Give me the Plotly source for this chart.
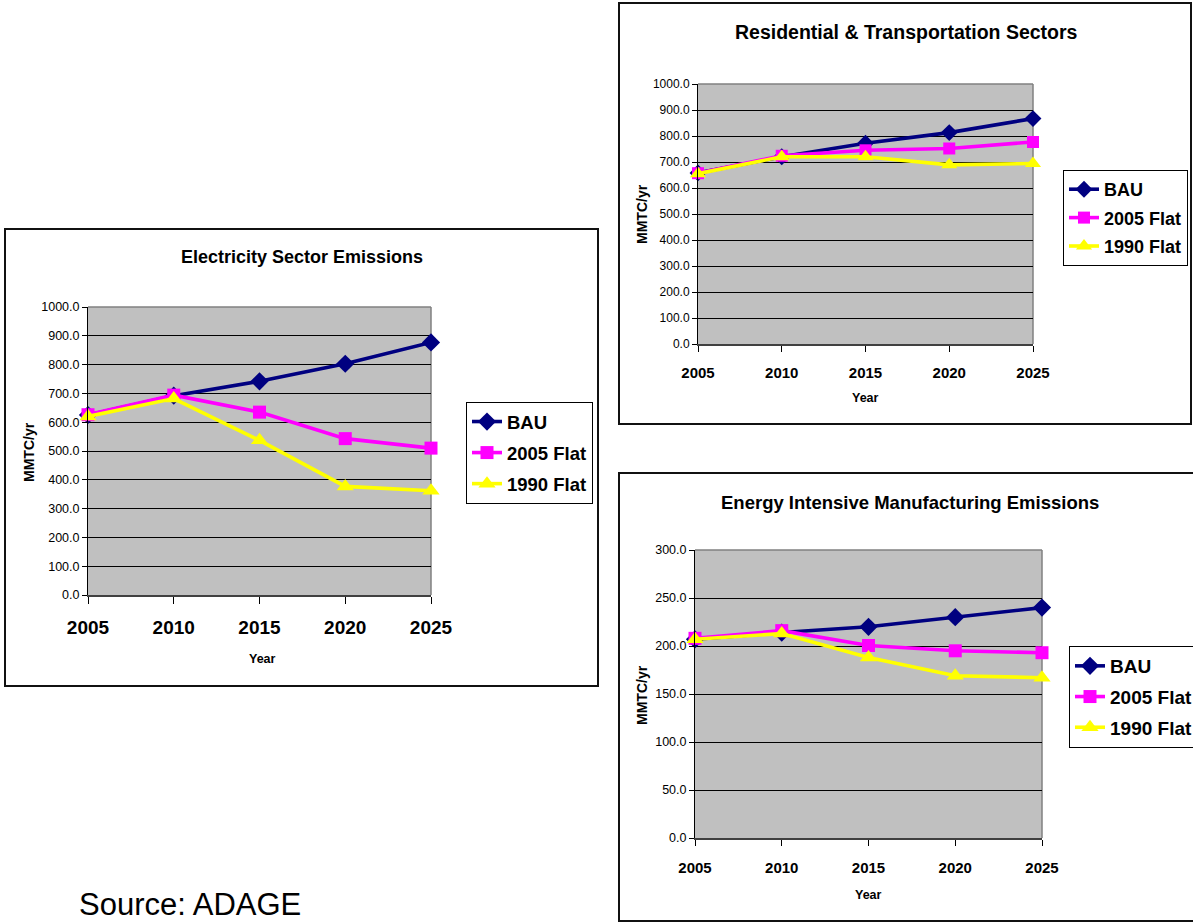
import plotly.graph_objects as go

# ---------------- data ----------------
years = [2005, 2010, 2015, 2020, 2025]
series_names = ["BAU", "2005 Flat", "1990 Flat"]

elec_bau = [625, 692, 742, 803, 877]
elec_2005 = [626, 694, 635, 543, 510]
elec_1990 = [620, 682, 537, 377, 362]

res_bau = [658, 720, 772, 813, 867]
res_2005 = [657, 724, 745, 752, 777]
res_1990 = [655, 720, 720, 689, 694]

mfg_bau = [207, 214, 220, 230, 240]
mfg_2005 = [208, 216, 200.5, 195, 193]
mfg_1990 = [207, 213, 188, 169, 167]

panel_titles = ["Electricity Sector Emissions",
                "Residential & Transportation Sectors",
                "Energy Intensive Manufacturing Emissions"]
y_title = "MMTC/yr"
x_title = "Year"
source_text = "Source: ADAGE"

y_ranges = [(0, 1000, 100), (0, 1000, 100), (0, 300, 50)]

# ---------------- styling / layout ----------------
W, H = 1193, 923
FONT = "Liberation Sans, Arial, sans-serif"
colors = ["#000080", "#FF00FF", "#FFFF00"]
symbols = ["diamond", "square", "triangle-up"]


def px(x):
    return x / W


def py(y):
    return 1 - y / H


# panel geometry in pixels
panels = [
    dict(plot=(88, 307, 431, 595), box=(5, 229, 598, 686),
         title=(302, 257, 18), xt=(262, 659), yt=(29, 452),
         xfont=19, yfont=12.5, xstand=7, xticklen=7,
         legend=(466, 402), lfont=18.5, lgap=4, msize=(14, 13, 15)),
    dict(plot=(698, 84, 1033, 344), box=(619, 3, 1191, 424),
         title=(906, 32, 19.5), xt=(866, 398), yt=(642, 214),
         xfont=15, yfont=12, xstand=8, xticklen=6,
         legend=(1063, 170), lfont=18, lgap=2, msize=(13, 12, 14)),
    dict(plot=(695, 550, 1042, 838), box=(619, 473, 1210, 921),
         title=(910, 502, 18.5), xt=(868, 895), yt=(642, 695),
         xfont=15, yfont=12.5, xstand=9, xticklen=6,
         legend=(1069, 646), lfont=19, lgap=3, msize=(14, 13, 15)),
]

data = [
    [elec_bau, elec_2005, elec_1990],
    [res_bau, res_2005, res_1990],
    [mfg_bau, mfg_2005, mfg_1990],
]

fig = go.Figure()
layout = dict(
    width=W, height=H, autosize=False,
    margin=dict(l=0, r=0, t=0, b=0, autoexpand=False),
    paper_bgcolor="white", plot_bgcolor="#C0C0C0",
    font=dict(family=FONT, color="black"),
    showlegend=True,
)
shapes = []
annotations = []

for i, (p, vals) in enumerate(zip(panels, data)):
    n = "" if i == 0 else str(i + 1)
    xa, ya = "x" + n, "y" + n
    leg = "legend" + n
    x0, y0, x1, y1 = p["plot"]
    for j, name in enumerate(series_names):
        fig.add_trace(go.Scatter(
            x=years, y=vals[j], name=name, mode="lines+markers",
            xaxis=xa, yaxis=ya, legend=leg, legendgroup=f"g{i}{j}",
            line=dict(color=colors[j], width=3.6),
            marker=dict(symbol=symbols[j], size=p["msize"][j], color=colors[j],
                        line=dict(width=0)),
            cliponaxis=False,
        ))
    ymin, ymax, dt = y_ranges[i]
    layout["xaxis" + n] = dict(
        domain=[px(x0), px(x1)], anchor=ya, range=[years[0], years[-1]],
        tickvals=years, ticktext=[str(y) for y in years],
        showgrid=False, zeroline=False, showline=True, linecolor="#404040", linewidth=2,
        ticks="outside", ticklen=p["xticklen"], tickcolor="black",
        ticklabelstandoff=p["xstand"],
        tickfont=dict(family=FONT, size=p["xfont"], color="black", weight=700),
        fixedrange=True,
    )
    layout["yaxis" + n] = dict(
        domain=[py(y1), py(y0)], anchor=xa, range=[ymin, ymax], dtick=dt, tick0=0,
        tickformat=".1f", showgrid=True, gridcolor="black", gridwidth=1,
        zeroline=False, showline=True, linecolor="black", linewidth=1,
        ticks="outside", ticklen=5, tickcolor="black",
        tickfont=dict(family=FONT, size=p["yfont"], color="black"),
        fixedrange=True,
    )
    # grey frame top and right
    shapes.append(dict(type="line", xref=xa + " domain", yref=ya + " domain",
                       x0=0, x1=1, y0=1, y1=1, line=dict(color="#808080", width=1.5),
                       layer="above"))
    shapes.append(dict(type="line", xref=xa + " domain", yref=ya + " domain",
                       x0=1, x1=1, y0=0, y1=1, line=dict(color="#808080", width=1.5),
                       layer="below"))
    # chart box
    bx0, by0, bx1, by1 = p["box"]
    shapes.append(dict(type="rect", xref="paper", yref="paper",
                       x0=px(bx0), x1=px(bx1), y0=py(by1), y1=py(by0),
                       line=dict(color="#111111", width=2), layer="below"))
    # titles
    tx, ty, ts = p["title"]
    annotations.append(dict(text=panel_titles[i], x=px(tx), y=py(ty), xref="paper", yref="paper",
                            xanchor="center", yanchor="middle", showarrow=False,
                            font=dict(family=FONT, size=ts, color="black", weight=700)))
    annotations.append(dict(text=x_title, x=px(p["xt"][0]), y=py(p["xt"][1]), xref="paper", yref="paper",
                            xanchor="center", yanchor="middle", showarrow=False,
                            font=dict(family=FONT, size=12.5, color="black", weight=700)))
    annotations.append(dict(text=y_title, x=px(p["yt"][0]), y=py(p["yt"][1]), xref="paper", yref="paper",
                            xanchor="center", yanchor="middle", showarrow=False, textangle=-90,
                            font=dict(family=FONT, size=14, color="black", weight=700)))
    lx, ly = p["legend"]
    layout[leg] = dict(
        x=px(lx), y=py(ly), xanchor="left", yanchor="top", xref="paper", yref="paper",
        bgcolor="white", bordercolor="black", borderwidth=1,
        font=dict(family=FONT, size=p["lfont"], color="black", weight=700),
        traceorder="grouped", tracegroupgap=p["lgap"], itemclick=False,
    )

annotations.append(dict(text=source_text, x=px(77), y=py(904), xref="paper", yref="paper",
                        xanchor="left", yanchor="middle", showarrow=False,
                        font=dict(family=FONT, size=31, color="black")))

layout["shapes"] = shapes
layout["annotations"] = annotations
fig.update_layout(**layout)

fig.write_html(
    "out.html",
    config=dict(displayModeBar=False),
    post_script="document.body.style.margin='0px';document.body.style.overflow='hidden';",
)
